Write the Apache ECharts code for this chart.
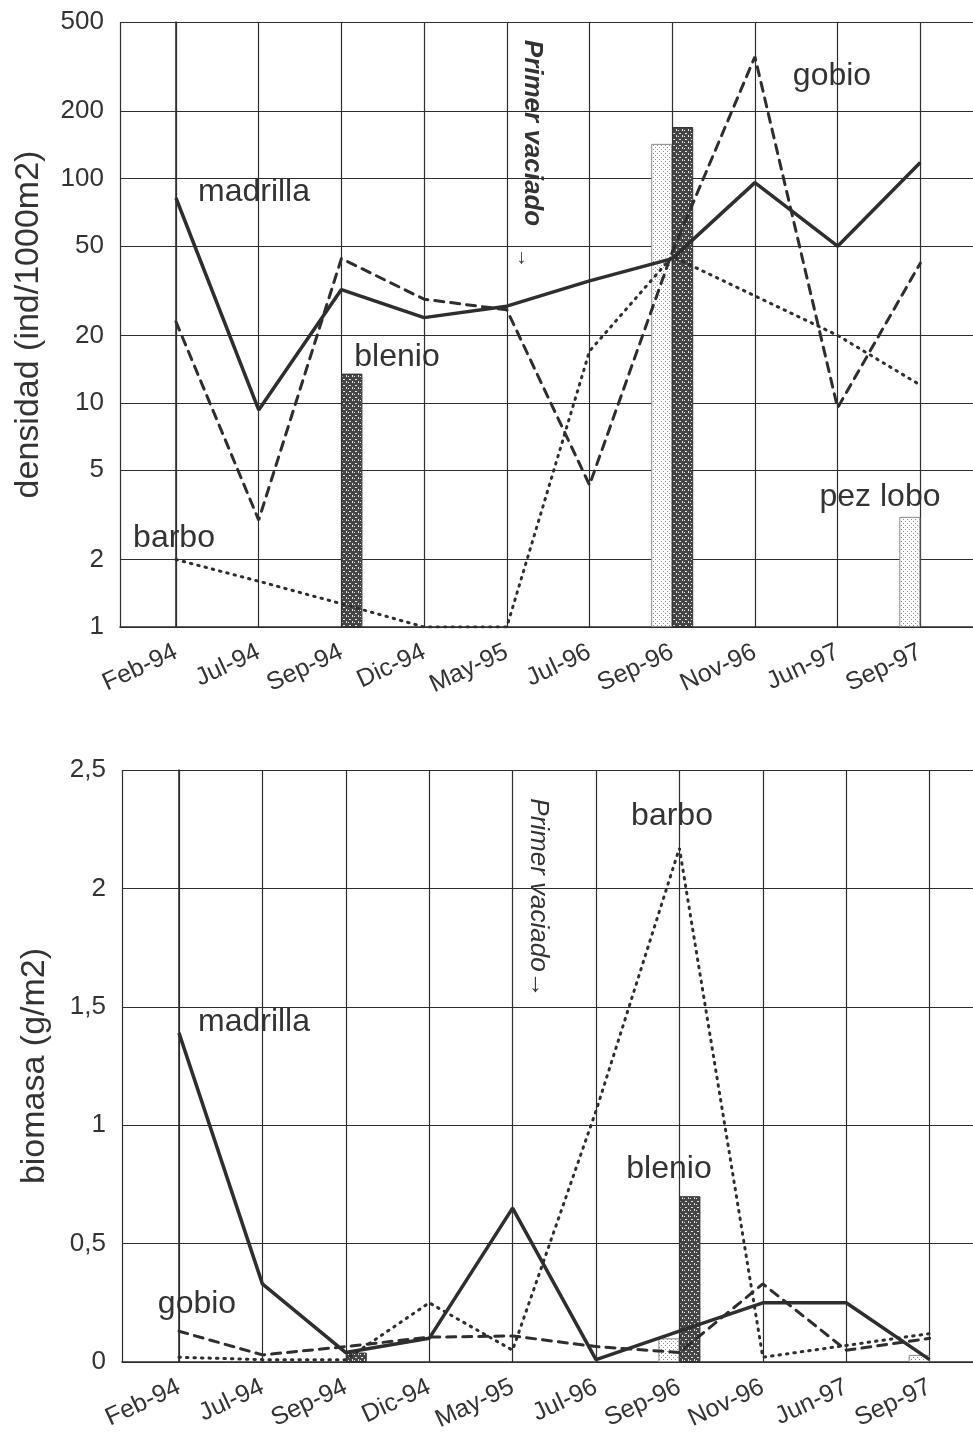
<!DOCTYPE html>
<html>
<head>
<meta charset="utf-8">
<script src="https://cdn.jsdelivr.net/npm/echarts@6/dist/echarts.min.js"></script>
<style>
html, body { margin: 0; padding: 0; background: #fff; }
#chart { width: 973px; height: 1433px; }
</style>
</head>
<body>
<div id="chart"></div>
<script>
// muestreos
var meses = ['Feb-94', 'Jul-94', 'Sep-94', 'Dic-94', 'May-95', 'Jul-96', 'Sep-96', 'Nov-96', 'Jun-97', 'Sep-97'];

// densidad (ind/1000m2)
var madrillaDens = [82, 9.3, 32, 24, 27, 35, 44, 96, 50, 118];
var gobioDens    = [23, 3.0, 44, 29, 26, 4.3, 47, 350, 9.5, 42];
var barboDens    = [2.0, 1.6, 1.27, 1.0, 1.0, 17, 45, 30, 20, 12];
var blenioDens   = [null, null, 13.5, null, null, null, 170, null, null, null];
var pezLoboDens  = [null, null, null, null, null, null, 143, null, null, 3.1];

// biomasa (g/m2)
var madrillaBio = [1.39, 0.33, 0.04, 0.10, 0.65, 0.01, 0.13, 0.25, 0.25, 0.01];
var gobioBio    = [0.13, 0.03, 0.065, 0.105, 0.11, 0.065, 0.04, 0.33, 0.05, 0.10];
var barboBio    = [0.02, 0.01, 0.01, 0.25, 0.05, 1.06, 2.17, 0.02, 0.07, 0.12];
var blenioBio   = [null, null, 0.04, null, null, null, 0.70, null, null, null];
var pezLoboBio  = [null, null, null, null, null, null, 0.10, null, null, 0.03];

var ticksDens = [1, 2, 5, 10, 20, 50, 100, 200, 500];

var FONT = '"Liberation Sans", Arial, sans-serif';
var INK = '#2e2e2e';

function pares(arr) {
  return arr.map(function (v, i) { return [i, v]; });
}
function paresBarra(arr) {
  var out = [];
  arr.forEach(function (v, i) { if (v != null) out.push([i, v]); });
  return out;
}

// tramas de las barras
function trama(w, h, fondo, tinta, puntos) {
  var c = document.createElement('canvas');
  c.width = w; c.height = h;
  var ctx = c.getContext('2d');
  ctx.fillStyle = fondo;
  ctx.fillRect(0, 0, w, h);
  ctx.fillStyle = tinta;
  puntos.forEach(function (p) { ctx.fillRect(p[0], p[1], p[2], p[3]); });
  return c;
}
var tramaBlenio = trama(6, 6, '#454545', '#e8e8e8', [[1, 1, 2, 1], [4, 3, 1, 2], [0, 4, 1, 1]]);
var tramaPez = trama(4, 4, '#ffffff', '#8a8a8a', [[1, 1, 1, 1], [3, 3, 1, 1]]);

function ejeX(grid, min, max) {
  return {
    type: 'value', gridIndex: grid, min: min, max: max,
    minInterval: 1, maxInterval: 1,
    axisLine: { show: true, lineStyle: { color: INK, width: 1.6 } },
    axisTick: { show: false },
    splitLine: { show: true, lineStyle: { color: INK, width: 1.2 } },
    axisLabel: {
      rotate: 25, margin: 24, fontSize: 25, color: '#333', fontFamily: FONT,
      formatter: function (v) {
        var r = Math.round(v);
        return Math.abs(v - r) < 1e-6 && meses[r] ? meses[r] : '';
      }
    }
  };
}

function linea(nombre, datos, xi, tipo, ancho) {
  return {
    name: nombre, type: 'line', xAxisIndex: xi, yAxisIndex: xi,
    data: pares(datos), symbol: 'none', z: 5,
    lineStyle: { color: INK, width: ancho, type: tipo, cap: tipo === 'solid' ? 'butt' : 'round' }
  };
}
function barra(nombre, datos, xi, trama, borde) {
  return {
    name: nombre, type: 'bar', xAxisIndex: xi, yAxisIndex: xi,
    data: paresBarra(datos), barWidth: 21, barGap: '0%', z: 2,
    itemStyle: { color: { image: trama, repeat: 'repeat' }, borderColor: borde, borderWidth: 1 }
  };
}

function texto(t, x, y, extra) {
  var el = {
    type: 'text', x: x, y: y,
    style: { text: t, fontSize: 32, fontFamily: FONT, fill: '#333', align: 'center', verticalAlign: 'middle' }
  };
  if (extra) {
    for (var k in extra) {
      if (k === 'style') { for (var s in extra.style) el.style[s] = extra.style[s]; }
      else el[k] = extra[k];
    }
  }
  return el;
}

var chart = echarts.init(document.getElementById('chart'), null, { renderer: 'canvas' });

var option = {
  backgroundColor: '#fff',
  animation: false,
  grid: [
    { left: 120, top: 22, width: 863, height: 605, outerBoundsMode: 'none', containLabel: false },
    { left: 122, top: 770, width: 861, height: 592, outerBoundsMode: 'none', containLabel: false }
  ],
  xAxis: [
    ejeX(0, -0.677, 9.758),
    ejeX(1, -0.683, 9.64)
  ],
  yAxis: [
    {
      type: 'log', gridIndex: 0, logBase: 10, min: 1, max: 500,
      name: 'densidad (ind/1000m2)', nameLocation: 'middle', nameGap: 74,
      nameTextStyle: { fontSize: 34, color: '#333', fontFamily: FONT },
      axisLine: { show: true, lineStyle: { color: INK, width: 1.6 } },
      axisTick: { show: false, customValues: ticksDens },
      splitLine: { show: true, lineStyle: { color: INK, width: 1.2 } },
      axisLabel: { customValues: ticksDens, fontSize: 26, margin: 16, color: '#333', fontFamily: FONT }
    },
    {
      type: 'value', gridIndex: 1, min: 0, max: 2.5, interval: 0.5,
      name: 'biomasa (g/m2)', nameLocation: 'middle', nameGap: 70,
      nameTextStyle: { fontSize: 34, color: '#333', fontFamily: FONT },
      axisLine: { show: true, lineStyle: { color: INK, width: 1.6 } },
      axisTick: { show: false },
      splitLine: { show: true, lineStyle: { color: INK, width: 1.2 } },
      axisLabel: {
        fontSize: 26, margin: 16, color: '#333', fontFamily: FONT,
        formatter: function (v) { return String(v).replace('.', ','); }
      }
    }
  ],
  series: [
    barra('pez lobo', pezLoboDens, 0, tramaPez, '#8a8a8a'),
    barra('blenio', blenioDens, 0, tramaBlenio, '#333'),
    linea('madrilla', madrillaDens, 0, 'solid', 3.5),
    linea('gobio', gobioDens, 0, [9, 7], 3),
    linea('barbo', barboDens, 0, [1.5, 6], 3),

    barra('pez lobo', pezLoboBio, 1, tramaPez, '#8a8a8a'),
    barra('blenio', blenioBio, 1, tramaBlenio, '#333'),
    linea('madrilla', madrillaBio, 1, 'solid', 3.5),
    linea('gobio', gobioBio, 1, [9, 7], 3),
    linea('barbo', barboBio, 1, [1.5, 6], 3)
  ],
  graphic: [
    // densidad
    texto('madrilla', 254, 192),
    texto('blenio', 397, 357),
    texto('barbo', 174, 538),
    texto('gobio', 832, 76),
    texto('pez lobo', 880, 497),
    texto('Primer vaciado', 532, 133, { rotation: -Math.PI / 2, style: { fontSize: 26, fontWeight: 'bold', fontStyle: 'italic' } }),
    texto('\u2192', 524, 258, { rotation: -Math.PI / 2, style: { fontSize: 20, fontWeight: 'bold' } }),
    // biomasa
    texto('barbo', 672, 816),
    texto('madrilla', 254, 1022),
    texto('blenio', 669, 1169),
    texto('gobio', 197, 1304),
    texto('Primer vaciado\u2192', 538, 898, { rotation: -Math.PI / 2, style: { fontSize: 26, fontStyle: 'italic' } })
  ]
};

chart.setOption(option);
</script>
</body>
</html>
